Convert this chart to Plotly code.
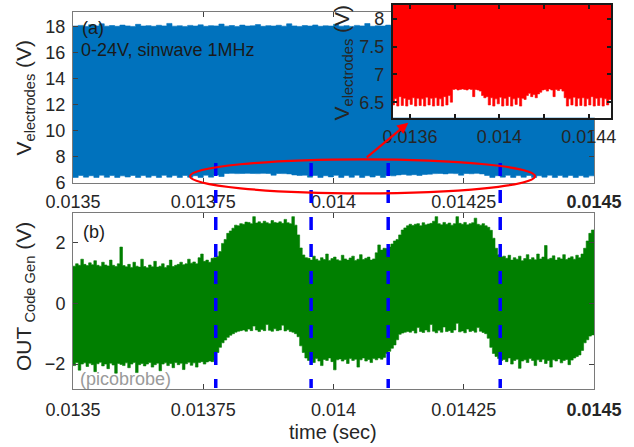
import numpy as np
import plotly.graph_objects as go

# ---------------- data ----------------
# V_electrodes: envelope of the dense 1 MHz sine (upper / lower), sampled every 10 us
t_v = np.round(np.linspace(0.0135, 0.0145, 101), 6)
v_upper = [18.05, 18.10, 18.02, 18.15, 18.06, 18.22, 18.04, 18.09, 18.03, 18.12,
           18.06, 18.02, 18.18, 18.05, 18.08, 18.03, 18.11, 18.06, 18.25, 18.04,
           18.07, 18.02, 18.10, 18.05, 18.14, 18.03, 18.08, 18.06, 18.20, 18.04,
           18.09, 18.02, 18.12, 18.05, 18.07, 18.16, 18.03, 18.08, 18.05, 18.11,
           18.04, 18.22, 18.06, 18.02, 18.09, 18.05, 18.13, 18.03, 18.07, 18.05,
           18.18, 18.04, 18.08, 18.02, 18.10, 18.06, 18.24, 18.03, 18.07, 18.05,
           18.12, 18.04, 18.09, 18.02, 18.15, 18.06, 18.03, 18.10, 18.05, 18.21,
           18.04, 18.08, 18.02, 18.11, 18.06, 18.03, 18.17, 18.05, 18.09, 18.04,
           18.12, 18.02, 18.07, 18.05, 18.23, 18.03, 18.09, 18.06, 18.04, 18.14,
           18.05, 18.02, 18.10, 18.06, 18.19, 18.04, 18.08, 18.03, 18.11, 18.05,
           18.08]
v_lower = [6.55, 6.43, 6.58, 6.45, 6.56, 6.43, 6.60, 6.44, 6.57, 6.43,
           6.55, 6.46, 6.58, 6.43, 6.57, 6.44, 6.56, 6.43, 6.59, 6.45,
           6.57, 6.43, 6.58, 6.44, 6.56, 6.43, 6.60, 6.45, 6.62, 6.50,
           6.73, 6.74, 6.72, 6.73, 6.74, 6.73, 6.72, 6.74, 6.73, 6.60,
           6.73, 6.72, 6.70,
           6.62, 6.58, 6.60,
           6.45, 6.58, 6.43, 6.56, 6.47, 6.59, 6.43, 6.57, 6.44, 6.60,
           6.43, 6.56, 6.46, 6.58, 6.43, 6.57, 6.55,
           6.62, 6.66, 6.60, 6.64, 6.58, 6.65, 6.68,
           6.72, 6.73, 6.70, 6.74, 6.72, 6.60, 6.73, 6.71, 6.74, 6.70,
           6.58, 6.43, 6.56, 6.45, 6.59, 6.43, 6.57, 6.44, 6.58, 6.43,
           6.56, 6.45, 6.60, 6.43, 6.57, 6.44, 6.58, 6.43, 6.56, 6.45,
           6.55]

# OUT_Code Gen (picoprobe): envelope of the dense signal, sampled every 5 us
t_out = np.round(np.linspace(0.0135, 0.0145, 201), 7)
out_upper = [1.22, 1.30, 1.25, 1.45, 1.28, 1.24, 1.33, 1.27, 1.40, 1.25,
             1.22, 1.35, 1.26, 1.23, 1.42, 1.25, 1.21, 1.30, 1.85, 1.24,
             1.20, 1.28, 1.18, 1.35, 1.22, 1.19, 1.45, 1.21, 1.17, 1.26,
             1.20, 1.38, 1.19, 1.22, 1.30, 1.18, 1.24, 1.42, 1.21, 1.25,
             1.28, 1.35, 1.27, 1.30, 1.45, 1.32, 1.36, 1.30, 1.50, 1.62,
             1.38, 1.42, 1.35, 1.48,
             1.50, 1.55, 1.70, 1.97, 2.10, 2.30, 2.38, 2.47, 2.57, 2.55, 2.62, 2.60, 2.67,
             2.66, 2.62, 2.85, 2.64, 2.68, 2.63, 2.70, 2.65, 2.62, 2.72, 2.66, 2.64, 2.68,
             2.63, 2.76, 2.65, 2.62, 2.85,
             2.57, 2.25, 1.82, 1.59, 1.50,
             1.48, 1.42, 1.55, 1.45, 1.40, 1.50, 1.44, 1.62, 1.41, 1.47,
             1.52, 1.43, 1.40, 1.58, 1.46, 1.42, 1.49, 1.55, 1.41, 1.45,
             1.60, 1.44, 1.48, 1.52, 1.42, 1.46, 1.66, 1.92, 1.75, 1.81, 1.80,
             1.85, 1.95, 2.05, 2.10, 2.25, 2.41, 2.48, 2.55, 2.60,
             2.56, 2.60, 2.62, 2.55, 2.65, 2.58, 2.61, 2.63, 2.70, 2.85,
             2.62, 2.58, 2.66, 2.60, 2.64, 2.57, 2.62, 2.85, 2.63, 2.60,
             2.66, 2.58, 2.62, 2.65, 2.80, 2.60, 2.57, 2.62, 2.55, 2.50,
             2.40, 2.14, 1.81, 1.60, 1.52, 1.55,
             1.48, 1.58, 1.42, 1.50, 1.45, 1.55, 1.40, 1.47, 1.60, 1.44,
             1.50, 1.43, 1.62, 1.46, 1.52, 1.90, 1.45, 1.48, 1.56, 1.42,
             1.50, 1.46, 1.60, 1.44, 1.49, 1.53, 1.45, 1.58, 1.50, 1.62,
             1.81, 2.05, 2.30, 2.41, 2.38]
out_lower = [-1.98, -2.05, -1.95, -2.20, -2.00, -1.96, -2.08, -1.97, -2.02, -2.25,
             -1.99, -1.94, -2.06, -2.00, -2.15, -1.97, -2.03, -2.30, -1.98, -2.01,
             -2.05, -1.96, -2.12, -2.00, -1.95, -2.28, -2.02, -1.98, -2.06, -2.00,
             -1.95, -2.10, -2.02, -1.97, -2.22, -2.00, -1.96, -2.05, -1.98, -2.12,
             -1.95, -2.02, -1.97, -2.18, -1.99, -1.94, -2.04, -1.96, -2.10, -1.95,
             -1.92, -2.00, -1.93, -1.90,
             -1.92, -1.88, -1.62, -1.45, -1.30, -1.21, -1.12, -1.05, -1.00, -0.95, -0.92, -0.90, -0.88,
             -0.92, -0.85, -0.90, -0.75, -0.88, -0.93, -0.86, -0.90, -0.70, -0.89, -0.92, -0.84,
             -0.90, -0.88, -0.72, -0.91, -0.87, -0.93,
             -0.95, -1.00, -1.10, -1.40, -1.62,
             -1.80, -1.88, -1.84, -1.95, -1.82, -1.90, -2.05, -1.85, -1.88, -1.80,
             -1.92, -2.19, -1.86, -1.83, -1.90, -1.85, -1.98, -1.82, -1.88, -1.84,
             -2.10, -1.86, -1.80, -1.90, -1.85, -1.95, -1.82, -1.86, -1.80, -1.84, -1.78,
             -1.65, -1.58, -1.48, -1.37, -1.20, -1.02, -0.98, -0.95, -0.93,
             -0.95, -0.90, -0.98, -0.80, -0.93, -0.96, -0.88, -0.94, -0.70, -0.92,
             -0.97, -0.89, -0.95, -0.78, -0.93, -0.90, -0.96, -0.88, -0.66, -0.94,
             -0.91, -0.97, -0.85, -0.93, -0.90, -0.95, -0.80, -0.92, -0.96, -1.00,
             -1.15, -1.45, -1.65, -1.75, -1.82, -1.88,
             -1.85, -1.92, -1.80, -2.00, -1.88, -1.84, -2.14, -1.90, -1.86, -1.95,
             -1.82, -1.88, -2.05, -1.86, -1.92, -1.84, -1.98, -1.88, -2.10, -1.86,
             -1.90, -1.83, -1.96, -1.88, -1.85, -2.02, -1.87, -1.80, -1.75, -1.70,
             -1.55, -1.30, -1.20, -1.08, -1.04]

# times of the blue dashed marker lines
marker_times = [0.013774, 0.013957, 0.014105, 0.014320]

# ticks
xtick_vals = [0.0135, 0.01375, 0.014, 0.01425, 0.0145]
xtick_text = ["0.0135", "0.01375", "0.014", "0.01425", "<b>0.0145</b>"]
ytick_top = [6, 8, 10, 12, 14, 16, 18]
ytick_bot = [-2, 0, 2]
inset_xtick_vals = [0.0136, 0.0138, 0.014, 0.0142, 0.0144]
inset_xtick_text = ["0.0136", "", "0.014", "", "0.0144"]
inset_ytick_vals = [6.5, 7, 7.5, 8]

assert len(v_upper) == len(t_v) and len(v_lower) == len(t_v)
assert len(out_upper) == len(t_out) and len(out_lower) == len(t_out)

# ---------------- figure ----------------
W, H = 634, 447
FONT = "Liberation Sans, Arial, Helvetica, sans-serif"


def px(x):
    return x / W


def py(y):
    return 1 - y / H


def band(t, up, lo):
    t = list(t)
    return t + t[::-1], list(up) + list(lo)[::-1]


BLUE = "#0072BD"
GREEN = "#007F00"
RED = "#FF0000"

fig = go.Figure()

bx, by = band(t_v, v_upper, v_lower)
fig.add_trace(go.Scatter(x=bx, y=by, fill="toself", fillcolor=BLUE, mode="lines",
                         line=dict(color=BLUE, width=0.6, simplify=False, shape="hv"),
                         xaxis="x", yaxis="y", hoverinfo="skip"))
gx, gy = band(t_out, out_upper, out_lower)
fig.add_trace(go.Scatter(x=gx, y=gy, fill="toself", fillcolor=GREEN, mode="lines",
                         line=dict(color=GREEN, width=0.6, simplify=False, shape="hv"),
                         xaxis="x2", yaxis="y2", hoverinfo="skip"))
fig.add_trace(go.Scatter(x=bx, y=by, fill="toself", fillcolor=RED, mode="lines",
                         line=dict(color=RED, width=0.6, simplify=False, shape="hv"),
                         xaxis="x3", yaxis="y3", hoverinfo="skip"))

tickfont = dict(family=FONT, size=18, color="#262626")
common = dict(showline=True, linecolor="#7a7a7a", linewidth=1, mirror="ticks",
              ticks="inside", ticklen=5, tickwidth=1, tickcolor="#404040",
              showgrid=False, zeroline=False, tickfont=tickfont, automargin=False)
inset_common = dict(showline=True, linecolor="#1a1a1a", linewidth=1.6, mirror="ticks",
                    ticks="inside", ticklen=4, tickwidth=1.5, tickcolor="#1a1a1a",
                    showgrid=False, zeroline=False, tickfont=tickfont, automargin=False)

x_dom = [px(73), px(594)]
fig.update_layout(
    width=W, height=H, margin=dict(l=0, r=0, t=0, b=0, autoexpand=False),
    paper_bgcolor="white", plot_bgcolor="white", showlegend=False,
    font=dict(family=FONT, color="#262626"),
    xaxis=dict(domain=x_dom, anchor="y", range=[0.0135, 0.0145],
               tickmode="array", tickvals=xtick_vals, ticktext=xtick_text,
               ticklabelstandoff=2, **common),
    yaxis=dict(domain=[py(183), py(11.7)], anchor="x", range=[6, 19.15],
               tickmode="array", tickvals=ytick_top, ticklabelstandoff=3, **common),
    xaxis2=dict(domain=x_dom, anchor="y2", range=[0.0135, 0.0145],
                tickmode="array", tickvals=xtick_vals, ticktext=xtick_text,
                ticklabelstandoff=4, **common),
    yaxis2=dict(domain=[py(389), py(212.7)], anchor="x2", range=[-2.82, 2.98],
                tickmode="array", tickvals=ytick_bot, ticklabelstandoff=3, **common),
    xaxis3=dict(domain=[px(392.7), px(611)], anchor="y3", range=[0.013522, 0.0145],
                tickmode="array", tickvals=inset_xtick_vals, ticktext=inset_xtick_text,
                ticklabelstandoff=2, **inset_common),
    yaxis3=dict(domain=[py(117.7), py(4.7)], anchor="x3", range=[6.22, 8.26],
                tickmode="array", tickvals=inset_ytick_vals, ticklabelstandoff=3,
                **inset_common),
)

shapes = []
for t in marker_times:
    shapes.append(dict(type="line", xref="x2", yref="paper", x0=t, x1=t,
                       y0=py(163), y1=py(388),
                       line=dict(color="#0000FF", width=3.5, dash="13px,14px"),
                       layer="above"))
shapes.append(dict(type="circle", xref="paper", yref="paper",
                   x0=px(190), x1=px(535), y0=py(193.3), y1=py(159.3),
                   line=dict(color=RED, width=2.2), layer="above"))
fig.update_layout(shapes=shapes)

ann = []
ann.append(dict(x=px(408.3), y=py(122.7), xref="paper", yref="paper", text="",
                showarrow=True, axref="pixel", ayref="pixel", ax=-43, ay=36,
                arrowhead=2, arrowsize=1, arrowwidth=2.2, arrowcolor=RED, standoff=0))
txt = dict(xref="paper", yref="paper", showarrow=False, xanchor="left", yanchor="middle",
           font=dict(family=FONT, size=18, color="#1a1a1a"))
ann.append(dict(x=px(80), y=py(28), text="(a)", **txt))
ann.append(dict(x=px(79), y=py(50), text="0-24V, sinwave 1MHz", **txt))
ann.append(dict(x=px(81), y=py(232), text="(b)", **txt))
ann.append(dict(x=px(78), y=py(379), text="(picobrobe)",
                **{**txt, "font": dict(family=FONT, size=18, color="#9a9a9a")}))
title_font = dict(family=FONT, size=21, color="#262626")
ann.append(dict(x=px(25), y=py(97.5), xref="paper", yref="paper", showarrow=False,
                text="V<sub>electrodes</sub> (V)", textangle=-90, font=title_font,
                xanchor="center", yanchor="middle"))
ann.append(dict(x=px(25), y=py(297), xref="paper", yref="paper", showarrow=False,
                text="OUT<sub> Code Gen</sub> (V)", textangle=-90, font=title_font,
                xanchor="center", yanchor="middle"))
ann.append(dict(x=px(342), y=py(62.5), xref="paper", yref="paper", showarrow=False,
                text="V<sub>electrodes</sub> (V)", textangle=-90, font=title_font,
                xanchor="center", yanchor="middle"))
ann.append(dict(x=px(333), y=py(432), xref="paper", yref="paper", showarrow=False,
                text="time (sec)", font=dict(family=FONT, size=20, color="#262626"),
                xanchor="center", yanchor="middle"))
fig.update_layout(annotations=ann)

fig.write_html("out.html")
